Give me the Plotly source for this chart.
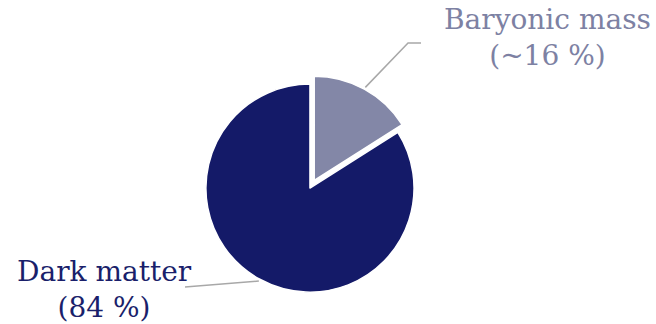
import math
import plotly.graph_objects as go

# Share of the universe's matter content
labels = ["Baryonic mass", "Dark matter"]
values = [16, 84]
label_text = ["Baryonic mass<br>(~16 %)", "Dark matter<br>(84 %)"]
colors = ["#8387a7", "#141a68"]
text_colors = ["#7d81a3", "#1a1f6b"]
pulls = [0.085, 0.0]

W, H = 656, 324
dom_x = [0.300, 0.645]
dom_y = [0.071, 0.768]

fig = go.Figure(
    go.Pie(
        labels=labels,
        values=values,
        sort=False,
        direction="clockwise",
        rotation=0,
        pull=pulls,
        marker=dict(colors=colors, line=dict(color="#ffffff", width=1.5)),
        textinfo="none",
        hoverinfo="label+percent",
        domain=dict(x=dom_x, y=dom_y),
        showlegend=False,
    )
)

# Pie geometry in pixels (mirrors plotly's layout of a pulled pie)
box_w = (dom_x[1] - dom_x[0]) * W
box_h = (dom_y[1] - dom_y[0]) * H
radius = min(box_w, box_h) / (2 + 2 * max(pulls))
cx = (dom_x[0] + dom_x[1]) / 2 * W
cy = H - (dom_y[0] + dom_y[1]) / 2 * H


def edge_point(idx, extra=2.0):
    total = sum(values)
    start = sum(values[:idx]) / total * 360
    mid = math.radians(start + values[idx] / total * 180)
    dx, dy = math.sin(mid), -math.cos(mid)
    off = pulls[idx] * radius
    r = radius + extra
    return cx + dx * (off + r), cy + dy * (off + r)


def to_paper(px, py):
    return px / W, 1 - py / H


# Leader lines from slice edges to the label anchors
bx, by = edge_point(0)
dxp, dyp = edge_point(1)
leader_paths = [
    [(bx, by), (408, 43), (421, 43)],
    [(dxp, dyp), (185, 287)],
]
for pts in leader_paths:
    pp = [to_paper(*p) for p in pts]
    path = "M " + " L ".join(f"{x:.4f},{y:.4f}" for x, y in pp)
    fig.add_shape(type="path", path=path, xref="paper", yref="paper",
                  line=dict(color="#a8a8a8", width=1.5))

# Outside labels
label_pos = [(547, 38), (104, 289)]
for txt, col, (px, py) in zip(label_text, text_colors, label_pos):
    x, y = to_paper(px, py)
    fig.add_annotation(x=x, y=y, xref="paper", yref="paper", text=txt,
                       showarrow=False, xanchor="center", yanchor="middle",
                       font=dict(family="DejaVu Serif", size=28, color=col),
                       align="center")

fig.update_layout(
    width=W, height=H,
    margin=dict(l=0, r=0, t=0, b=0),
    paper_bgcolor="#ffffff",
    plot_bgcolor="#ffffff",
)

fig.write_html("out.html")
